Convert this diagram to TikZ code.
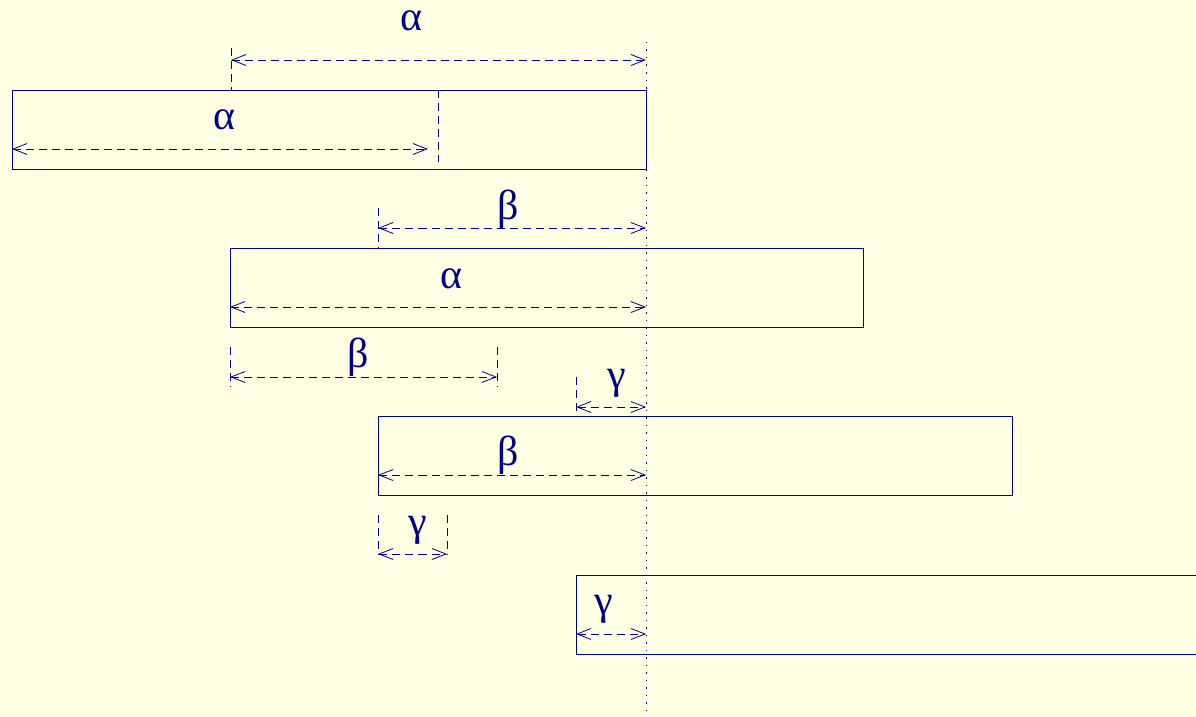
\documentclass[tikz,border=0pt]{standalone}
\usepackage{fontspec}
\setmainfont{Liberation Serif}
\usetikzlibrary{arrows.meta}
\definecolor{bg}{RGB}{255,255,228}
\definecolor{ink}{RGB}{0,0,140}
\tikzset{
 box/.style={draw=ink, line width=0.9pt, inner sep=0, outer sep=0, anchor=north west},
 dim/.style={draw=ink, line width=0.8pt, dash pattern=on 8pt off 5pt,
   {Straight Barb[length=14pt,width=11pt]}-{Straight Barb[length=14pt,width=11pt]}},
 tick/.style={draw=ink, line width=0.8pt, dash pattern=on 8pt off 5pt},
 guide/.style={draw=ink, line width=0.9pt, dash pattern=on 1.5pt off 6pt},
 lbl/.style={text=ink, font=\fontsize{42}{50}\selectfont, inner sep=0, anchor=base}
}
\begin{document}
\begin{tikzpicture}[x=1pt,y=-1pt]
\fill[bg] (0,0) rectangle (1196,717);
\useasboundingbox (0,0) rectangle (1196,717);
% boxes
\node[box, minimum width=634pt, minimum height=79pt] (r1) at (12,90) {};
\node[box, minimum width=633pt, minimum height=79pt] (r2) at (230,248) {};
\node[box, minimum width=634pt, minimum height=79pt] (r3) at (378,416) {};
\node[box, minimum width=622pt, minimum height=79pt] (r4) at (576,575) {};
% guide line
\coordinate (gt) at (646,42);
\coordinate (gb) at (646,717);
\draw[guide] (gt) -- (gb);
% row 1
\coordinate (t1a) at (231,48); \coordinate (t1b) at (231,90);
\draw[tick] (t1a) -- (t1b);
\coordinate (d1l) at (231,60); \coordinate (d1r) at (646,60);
\draw[dim] (d1l) -- (d1r);
\node[lbl] (l1) at (411,31) {α};
\coordinate (t2a) at (438,90); \coordinate (t2b) at (438,162);
\draw[tick] (t2a) -- (t2b);
\coordinate (d2l) at (12,149); \coordinate (d2r) at (428,149);
\draw[dim] (d2l) -- (d2r);
\node[lbl] (l2) at (224,129) {α};
% row 2
\coordinate (t3a) at (378,208); \coordinate (t3b) at (378,248);
\draw[tick] (t3a) -- (t3b);
\coordinate (d3l) at (378,228); \coordinate (d3r) at (646,228);
\draw[dim] (d3l) -- (d3r);
\node[lbl] (l3) at (508,219) {β};
\coordinate (d4l) at (230,307); \coordinate (d4r) at (646,307);
\draw[dim] (d4l) -- (d4r);
\node[lbl] (l4) at (451,288) {α};
% between 2 and 3
\coordinate (t5a) at (230,347); \coordinate (t5b) at (230,387);
\coordinate (t6a) at (497,347); \coordinate (t6b) at (497,387);
\draw[tick] (t5a) -- (t5b);
\draw[tick] (t6a) -- (t6b);
\coordinate (d5l) at (230,377); \coordinate (d5r) at (497,377);
\draw[dim] (d5l) -- (d5r);
\node[lbl] (l5) at (358,367) {β};
\coordinate (t7a) at (576,377); \coordinate (t7b) at (576,416);
\draw[tick] (t7a) -- (t7b);
\coordinate (d6l) at (576,407); \coordinate (d6r) at (646,407);
\draw[dim] (d6l) -- (d6r);
\node[lbl] (l6) at (617,388) {γ};
% row 3
\coordinate (d7l) at (378,475); \coordinate (d7r) at (646,475);
\draw[dim] (d7l) -- (d7r);
\node[lbl] (l7) at (508,465) {β};
% between 3 and 4
\coordinate (t8a) at (378,515); \coordinate (t8b) at (378,555);
\coordinate (t9a) at (447,515); \coordinate (t9b) at (447,555);
\draw[tick] (t8a) -- (t8b);
\draw[tick] (t9a) -- (t9b);
\coordinate (d8l) at (378,554); \coordinate (d8r) at (447,554);
\draw[dim] (d8l) -- (d8r);
\node[lbl] (l8) at (418,535) {γ};
% row 4
\coordinate (d9l) at (576,634); \coordinate (d9r) at (646,634);
\draw[dim] (d9l) -- (d9r);
\node[lbl] (l9) at (604,614) {γ};
\end{tikzpicture}
\end{document}
